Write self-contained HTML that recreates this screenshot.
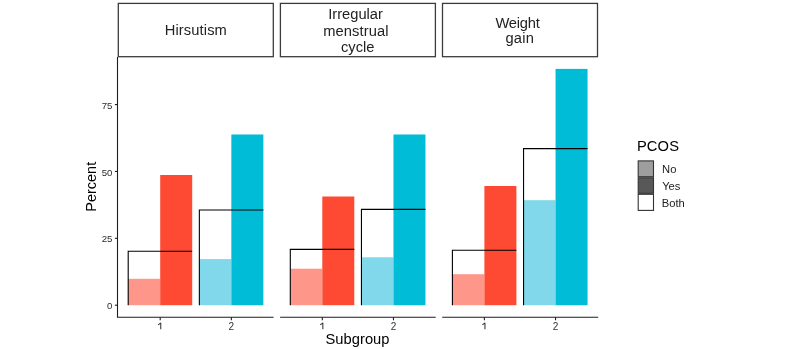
<!DOCTYPE html><html><head><meta charset="utf-8"><style>html,body{margin:0;padding:0;background:#fff;width:800px;height:349px;overflow:hidden}svg{display:block;will-change:transform}text{font-family:"Liberation Sans",sans-serif}</style></head><body>
<svg width="800" height="349" viewBox="0 0 800 349">
<rect x="0" y="0" width="800" height="349" fill="#fff"/>
<rect x="118.30" y="3.4" width="155.00" height="53.30" fill="#fff" stroke="#3c3c3c" stroke-width="1.3"/>
<rect x="280.40" y="3.4" width="155.00" height="53.30" fill="#fff" stroke="#3c3c3c" stroke-width="1.3"/>
<rect x="442.50" y="3.4" width="155.00" height="53.30" fill="#fff" stroke="#3c3c3c" stroke-width="1.3"/>
<text x="195.76" y="35.35" font-size="14.7" fill="#222222" text-anchor="middle" textLength="62.19" lengthAdjust="spacing">Hirsutism</text>
<text x="355.54" y="19.30" font-size="14.7" fill="#222222" text-anchor="middle" textLength="54.77" lengthAdjust="spacing">Irregular</text>
<text x="355.86" y="35.70" font-size="14.7" fill="#222222" text-anchor="middle" textLength="65.37" lengthAdjust="spacing">menstrual</text>
<text x="357.72" y="51.70" font-size="14.7" fill="#222222" text-anchor="middle" textLength="33.59" lengthAdjust="spacing">cycle</text>
<text x="517.65" y="27.50" font-size="14.7" fill="#222222" text-anchor="middle" textLength="44.50" lengthAdjust="spacing">Weight</text>
<text x="519.66" y="43.20" font-size="14.7" fill="#222222" text-anchor="middle" textLength="28.33" lengthAdjust="spacing">gain</text>
<rect x="128.20" y="278.80" width="32.00" height="26.40" fill="#FE978A"/>
<rect x="160.20" y="175.00" width="32.00" height="130.20" fill="#FE4A32"/>
<path d="M128.20 305.20 V251.30 H192.20" fill="none" stroke="#000" stroke-width="1.1"/>
<rect x="199.35" y="259.10" width="32.00" height="46.10" fill="#80D8EA"/>
<rect x="231.35" y="134.50" width="32.00" height="170.70" fill="#00BCD6"/>
<path d="M199.35 305.20 V210.00 H263.35" fill="none" stroke="#000" stroke-width="1.1"/>
<rect x="290.30" y="268.70" width="32.00" height="36.50" fill="#FE978A"/>
<rect x="322.30" y="196.50" width="32.00" height="108.70" fill="#FE4A32"/>
<path d="M290.30 305.20 V249.40 H354.30" fill="none" stroke="#000" stroke-width="1.1"/>
<rect x="361.45" y="257.30" width="32.00" height="47.90" fill="#80D8EA"/>
<rect x="393.45" y="134.50" width="32.00" height="170.70" fill="#00BCD6"/>
<path d="M361.45 305.20 V209.40 H425.45" fill="none" stroke="#000" stroke-width="1.1"/>
<rect x="452.40" y="274.20" width="32.00" height="31.00" fill="#FE978A"/>
<rect x="484.40" y="186.00" width="32.00" height="119.20" fill="#FE4A32"/>
<path d="M452.40 305.20 V250.30 H516.40" fill="none" stroke="#000" stroke-width="1.1"/>
<rect x="523.55" y="200.20" width="32.00" height="105.00" fill="#80D8EA"/>
<rect x="555.55" y="68.90" width="32.00" height="236.30" fill="#00BCD6"/>
<path d="M523.55 305.20 V148.60 H587.55" fill="none" stroke="#000" stroke-width="1.1"/>
<line x1="117.70" y1="317.2" x2="273.60" y2="317.2" stroke="#1e1e1e" stroke-width="1.1"/>
<line x1="160.20" y1="317.2" x2="160.20" y2="320.20" stroke="#1e1e1e" stroke-width="1.1"/>
<path d="M160.75 329.3 V322.7 M160.75 322.9 L158.20 324.9" fill="none" stroke="#333" stroke-width="1.05"/>
<line x1="231.35" y1="317.2" x2="231.35" y2="320.20" stroke="#1e1e1e" stroke-width="1.1"/>
<text x="231.35" y="329.9" font-size="10" fill="#333" text-anchor="middle">2</text>
<line x1="280.10" y1="317.2" x2="435.70" y2="317.2" stroke="#1e1e1e" stroke-width="1.1"/>
<line x1="322.30" y1="317.2" x2="322.30" y2="320.20" stroke="#1e1e1e" stroke-width="1.1"/>
<path d="M322.85 329.3 V322.7 M322.85 322.9 L320.30 324.9" fill="none" stroke="#333" stroke-width="1.05"/>
<line x1="393.45" y1="317.2" x2="393.45" y2="320.20" stroke="#1e1e1e" stroke-width="1.1"/>
<text x="393.45" y="329.9" font-size="10" fill="#333" text-anchor="middle">2</text>
<line x1="442.20" y1="317.2" x2="598.20" y2="317.2" stroke="#1e1e1e" stroke-width="1.1"/>
<line x1="484.40" y1="317.2" x2="484.40" y2="320.20" stroke="#1e1e1e" stroke-width="1.1"/>
<path d="M484.95 329.3 V322.7 M484.95 322.9 L482.40 324.9" fill="none" stroke="#333" stroke-width="1.05"/>
<line x1="555.55" y1="317.2" x2="555.55" y2="320.20" stroke="#1e1e1e" stroke-width="1.1"/>
<text x="555.55" y="329.9" font-size="10" fill="#333" text-anchor="middle">2</text>
<line x1="117.5" y1="57" x2="117.5" y2="317.7" stroke="#1e1e1e" stroke-width="1.1"/>
<line x1="114.9" y1="305.20" x2="117.5" y2="305.20" stroke="#1e1e1e" stroke-width="1.1"/>
<text x="112.4" y="309.30" font-size="9.6" fill="#2a2a2a" text-anchor="end">0</text>
<line x1="114.9" y1="238.32" x2="117.5" y2="238.32" stroke="#1e1e1e" stroke-width="1.1"/>
<text x="112.4" y="242.42" font-size="9.6" fill="#2a2a2a" text-anchor="end">25</text>
<line x1="114.9" y1="171.45" x2="117.5" y2="171.45" stroke="#1e1e1e" stroke-width="1.1"/>
<text x="112.4" y="175.55" font-size="9.6" fill="#2a2a2a" text-anchor="end">50</text>
<line x1="114.9" y1="104.57" x2="117.5" y2="104.57" stroke="#1e1e1e" stroke-width="1.1"/>
<text x="112.4" y="108.67" font-size="9.6" fill="#2a2a2a" text-anchor="end">75</text>
<text x="357.45" y="344.10" font-size="14.7" fill="#000" text-anchor="middle" textLength="64.11" lengthAdjust="spacing">Subgroup</text>
<text transform="translate(96.40 186.80) rotate(-90)" x="0" y="0" font-size="14.5" fill="#000" text-anchor="middle">Percent</text>
<text x="657.92" y="151.30" font-size="14.7" fill="#000" text-anchor="middle" textLength="42.07" lengthAdjust="spacing">PCOS</text>
<rect x="638.2" y="160.90" width="15.3" height="15.80" fill="#9E9E9E" stroke="#333" stroke-width="1.1"/>
<text x="669.26" y="173.20" font-size="11.2" fill="#222222" text-anchor="middle">No</text>
<rect x="638.2" y="177.80" width="15.3" height="15.50" fill="#585858" stroke="#333" stroke-width="1.1"/>
<text x="671.30" y="190.10" font-size="11.2" fill="#222222" text-anchor="middle">Yes</text>
<rect x="638.2" y="194.30" width="15.3" height="16.10" fill="#ffffff" stroke="#333" stroke-width="1.1"/>
<text x="673.31" y="206.90" font-size="11.2" fill="#222222" text-anchor="middle">Both</text>
</svg></body></html>
